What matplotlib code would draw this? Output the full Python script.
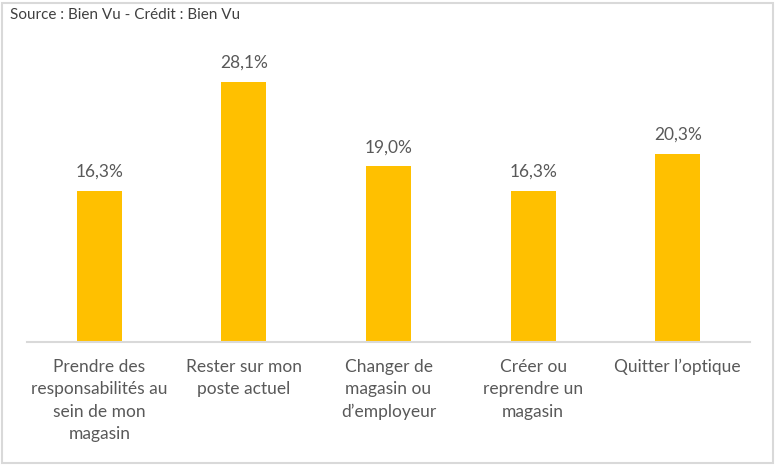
import matplotlib
matplotlib.use("Agg")
import matplotlib.pyplot as plt
from matplotlib.patches import Rectangle

categories = [
    "Prendre des\nresponsabilités au\nsein de mon\nmagasin",
    "Rester sur mon\nposte actuel",
    "Changer de\nmagasin ou\nd’employeur",
    "Créer ou\nreprendre un\nmagasin",
    "Quitter l’optique",
]
values = [16.3, 28.1, 19.0, 16.3, 20.3]
source = "Source : Bien Vu - Crédit : Bien Vu"

BAR = "#FFC000"
TEXT = "#595959"
GRID = "#D9D9D9"

plt.rcParams["font.family"] = ["Lato", "DejaVu Sans"]

fig = plt.figure(figsize=(7.76, 4.66), dpi=100)
ax = fig.add_axes([0.0348, 0.2661, 0.9317, 0.5955])

x = range(len(values))
ax.bar(x, values, width=0.31, color=BAR)
ax.set_xlim(-0.5, len(values) - 0.5)
ax.set_ylim(0, 30)

# value labels, French decimal comma
for xi, v in zip(x, values):
    ax.annotate(f"{v:.1f}%".replace(".", ","), (xi, v), xytext=(0, 8),
                textcoords="offset points", ha="center", va="bottom",
                fontsize=12.5, color=TEXT)

ax.set_xticks(list(x))
ax.set_xticklabels(categories, fontsize=12.5, color=TEXT, linespacing=1.5, va="top")
ax.tick_params(axis="x", length=0, pad=12)
ax.set_yticks([])
for side in ("top", "right", "left"):
    ax.spines[side].set_visible(False)
ax.spines["bottom"].set_color(GRID)
ax.spines["bottom"].set_linewidth(1.5)

fig.text(10 / 776, 1 - 15 / 466, source, fontsize=11, color="#404040",
         ha="left", va="center")

# chart-area border
fig.patches.append(Rectangle((2 / 776, 3 / 466), 771 / 776, 460 / 466,
                             transform=fig.transFigure, fill=False,
                             edgecolor=GRID, lw=1.5))

fig.savefig("out.png", dpi=100, facecolor="white")
